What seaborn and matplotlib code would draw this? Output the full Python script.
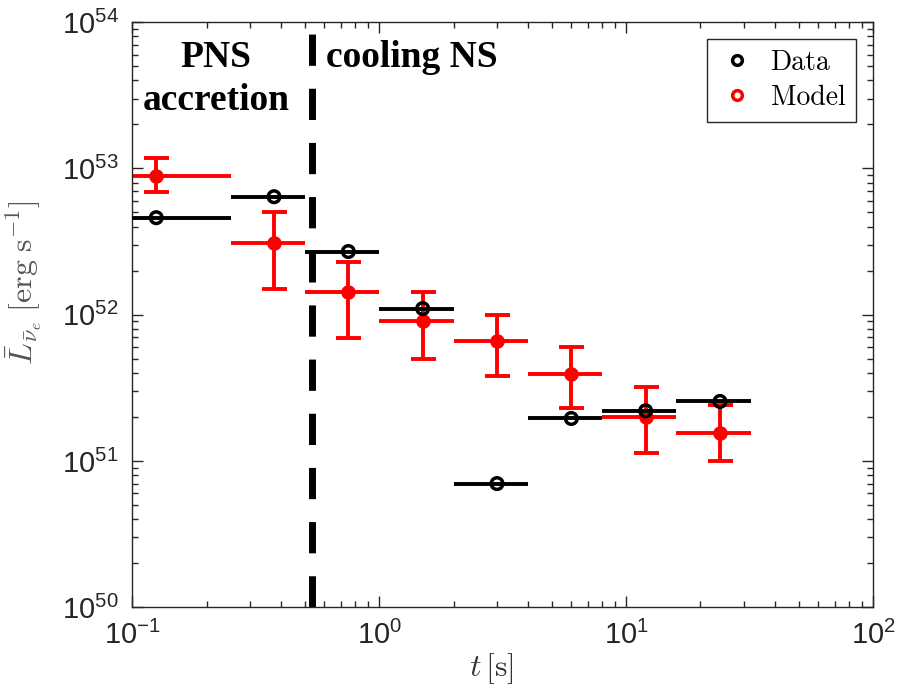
import numpy as np
import pandas as pd
import matplotlib
matplotlib.use("Agg")
import matplotlib.pyplot as plt
import seaborn as sns
from matplotlib.lines import Line2D
from matplotlib.ticker import LogLocator, FuncFormatter, NullFormatter

sns.set_theme(style="ticks")
plt.rcParams["font.family"] = ["Liberation Sans", "DejaVu Sans"]
plt.rcParams["mathtext.fontset"] = "cm"

# ── data: time bins [s] and luminosities [erg/s] ────────────────────────────
t_lo = [0.0, 0.25, 0.5, 1.0, 2.0, 4.0, 8.0, 16.0]
t_hi = [0.25, 0.5, 1.0, 2.0, 4.0, 8.0, 16.0, 32.0]
t_mid = [0.125, 0.375, 0.75, 1.5, 3.0, 6.0, 12.0, 24.0]

L_data = [4.6e52, 6.4e52, 2.7e52, 1.1e52, 7.0e50, 1.95e51, 2.2e51, 2.55e51]

L_model = [8.9e52, 3.1e52, 1.43e52, 9.0e51, 6.6e51, 3.9e51, 2.0e51, 1.55e51]
L_model_hi = [1.17e53, 5.0e52, 2.3e52, 1.43e52, 9.9e51, 6.0e51, 3.2e51, 2.4e51]
L_model_lo = [6.9e52, 1.5e52, 6.9e51, 5.0e51, 3.8e51, 2.3e51, 1.13e51, 1.0e51]

t_boundary = 0.535

df = pd.DataFrame({"t": t_mid, "lo": t_lo, "hi": t_hi, "data": L_data,
                   "model": L_model, "m_hi": L_model_hi, "m_lo": L_model_lo})
xerr = [df["t"] - df["lo"].clip(lower=0.09), df["hi"] - df["t"]]

fig = plt.figure(figsize=(9, 6.9), dpi=100)
ax = fig.add_axes([0.147, 0.120, 0.823, 0.848])
ax.set_xscale("log"); ax.set_yscale("log")
ax.set_xlim(0.1, 100); ax.set_ylim(1e50, 1e54)

# boundary between accretion and cooling phases
ax.axvline(t_boundary, color="black", lw=5, dashes=(4.5, 3.3), zorder=1)

# model: horizontal bars without caps, vertical bars with caps
ax.errorbar(df["t"], df["model"], xerr=xerr, fmt="none", ecolor="red",
            elinewidth=2.8, capsize=0, zorder=2)
ax.errorbar(df["t"], df["model"],
            yerr=[df["model"] - df["m_lo"], df["m_hi"] - df["model"]],
            fmt="none", ecolor="red", elinewidth=2.8, capsize=9, capthick=2.8, zorder=2)
sns.scatterplot(data=df, x="t", y="model", ax=ax, color="red", s=110,
                edgecolor="red", linewidth=0, zorder=3, legend=False)

# data: horizontal bars and open circles
ax.errorbar(df["t"], df["data"], xerr=xerr, fmt="none", ecolor="black",
            elinewidth=2.8, capsize=0, zorder=4)
sns.scatterplot(data=df, x="t", y="data", ax=ax, facecolor="none",
                edgecolor="black", s=70, linewidth=2.5, zorder=5, legend=False)

# axes styling
ax.xaxis.set_major_locator(LogLocator(base=10, numticks=10))
ax.yaxis.set_major_locator(LogLocator(base=10, numticks=10))
ax.xaxis.set_minor_locator(LogLocator(base=10, subs=np.arange(2, 10), numticks=20))
ax.yaxis.set_minor_locator(LogLocator(base=10, subs=np.arange(2, 10), numticks=20))
fmt = FuncFormatter(lambda v, p: r"$\mathregular{10^{%d}}$" % round(np.log10(v)))
ax.xaxis.set_major_formatter(fmt); ax.yaxis.set_major_formatter(fmt)
ax.xaxis.set_minor_formatter(NullFormatter()); ax.yaxis.set_minor_formatter(NullFormatter())
ax.tick_params(which="both", direction="in", top=True, right=True,
               colors="#262626", labelsize=21, width=1)
ax.tick_params(which="major", length=8, pad=10)
ax.tick_params(which="minor", length=4)
for s in ax.spines.values():
    s.set_color("#262626"); s.set_linewidth(1)

ax.set_xlabel(r"$t\,[\mathrm{s}]$", fontsize=23, color="#333333")
ax.set_ylabel(r"$\bar{L}_{\bar{\nu}_e}\;[\mathrm{erg\;s^{-1}}]$", fontsize=23,
              color="#555555")
ax.xaxis.set_label_coords(0.485, -0.075)
ax.yaxis.set_label_coords(-0.118, 0.555)

# phase labels
ax.text(0.113, 0.94, "PNS", transform=ax.transAxes, ha="center", va="center",
        fontsize=27, fontweight="bold", family="Liberation Serif", color="black")
ax.text(0.113, 0.866, "accretion", transform=ax.transAxes, ha="center", va="center",
        fontsize=27, fontweight="bold", family="Liberation Serif", color="black")
ax.text(0.377, 0.94, "cooling NS", transform=ax.transAxes, ha="center", va="center",
        fontsize=27, fontweight="bold", family="Liberation Serif", color="black")

handles = [Line2D([], [], ls="none", marker="o", mfc="none", mec="black", mew=2.5, ms=7),
           Line2D([], [], ls="none", marker="o", mfc="none", mec="red", mew=2.5, ms=7)]
leg = ax.legend(handles, ["Data", "Model"], loc="upper right", fancybox=False,
                edgecolor="#262626", framealpha=1, handletextpad=0.5, handlelength=1.4,
                borderaxespad=0.6, labelspacing=0.3,
                prop={"family": "cmr10", "size": 20})
leg.get_frame().set_linewidth(1)
for txt in leg.get_texts():
    txt.set_color("black")

fig.savefig("out.png", dpi=100)
